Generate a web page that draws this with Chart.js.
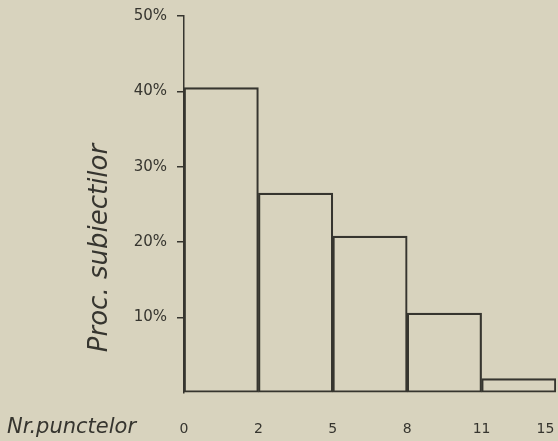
<!DOCTYPE html>
<html>
<head>
<meta charset="utf-8">
<script src="https://cdn.jsdelivr.net/npm/chart.js@4.4.1/dist/chart.umd.min.js"></script>
<style>
  html, body { margin: 0; padding: 0; background: #d8d3be; }
  #wrap { width: 558px; height: 441px; }
</style>
</head>
<body>
<div id="wrap"><canvas id="chart1"></canvas></div>
<script>
// limitele claselor (nr. punctelor) si procentul subiectilor pe clasa
const binEdges = ['0', '2', '5', '8', '11', '15'];
const procValues = [40.5, 26.5, 20.8, 10.6, 1.9];
const yTicks = [0, 10, 20, 30, 40, 50];

const ink = '#36352f';

// titlurile axelor, scrise langa axe
const axisTitles = {
    id: 'axisTitles',
    afterDraw(chart) {
        const ctx = chart.ctx;
        ctx.save();
        ctx.fillStyle = ink;
        ctx.font = 'oblique 21px "DejaVu Sans"';
        ctx.textBaseline = 'middle';
        ctx.textAlign = 'left';
        ctx.fillText('Nr.punctelor', 7, 428);

        ctx.translate(100, 248);
        ctx.rotate(-Math.PI / 2);
        ctx.textAlign = 'center';
        ctx.font = 'oblique 26px "DejaVu Sans"';
        ctx.fillText('Proc. subiectilor', 0, 0);
        ctx.restore();
    }
};

const ctx1 = document.getElementById('chart1').getContext('2d');
const chart1 = new Chart(ctx1, {
    type: 'bar',
    data: {
        datasets: [{
            data: procValues.map((v, i) => ({ x: i + 0.5, y: v })),
            backgroundColor: 'rgba(0,0,0,0)',
            borderColor: ink,
            borderWidth: 1.5,
            borderSkipped: false,
            barPercentage: 1,
            categoryPercentage: 1
        }]
    },
    options: {
        responsive: true,
        maintainAspectRatio: false,
        animation: false,
        layout: { padding: { top: 16, right: 2, left: 0, bottom: 0 } },
        plugins: {
            legend: { display: false },
            tooltip: { enabled: false }
        },
        scales: {
            x: {
                type: 'linear',
                offset: false,
                min: 0,
                max: binEdges.length - 1,
                grid: { display: false },
                border: { display: false },
                ticks: {
                    stepSize: 1,
                    color: ink,
                    font: { family: 'DejaVu Sans', size: 14 },
                    padding: 20,
                    maxRotation: 0,
                    callback: (v, i, arr) => i === arr.length - 1 ? binEdges[v] + '\u2003\u2002' : binEdges[v]
                },
                afterFit: (scale) => {
                    scale.height = 48;
                    scale.paddingRight = 0;
                    scale.paddingLeft = 0;
                }
            },
            y: {
                min: 0,
                max: 50,
                afterBuildTicks: (scale) => {
                    scale.ticks = yTicks.map(v => ({ value: v }));
                },
                grid: {
                    drawOnChartArea: false,
                    drawTicks: true,
                    tickLength: 7,
                    lineWidth: 1.5,
                    color: (c) => c.tick && c.tick.value === 0 ? 'rgba(0,0,0,0)' : ink
                },
                border: { display: true, color: ink, width: 1.5 },
                ticks: {
                    color: ink,
                    font: { family: 'DejaVu Sans', size: 15 },
                    padding: 10,
                    callback: (v) => v === 0 ? '' : v + '%'
                },
                afterFit: (scale) => {
                    scale.width = 184;
                    scale.paddingTop = 0;
                    scale.paddingBottom = 0;
                }
            }
        }
    },
    plugins: [axisTitles]
});
</script>
</body>
</html>
